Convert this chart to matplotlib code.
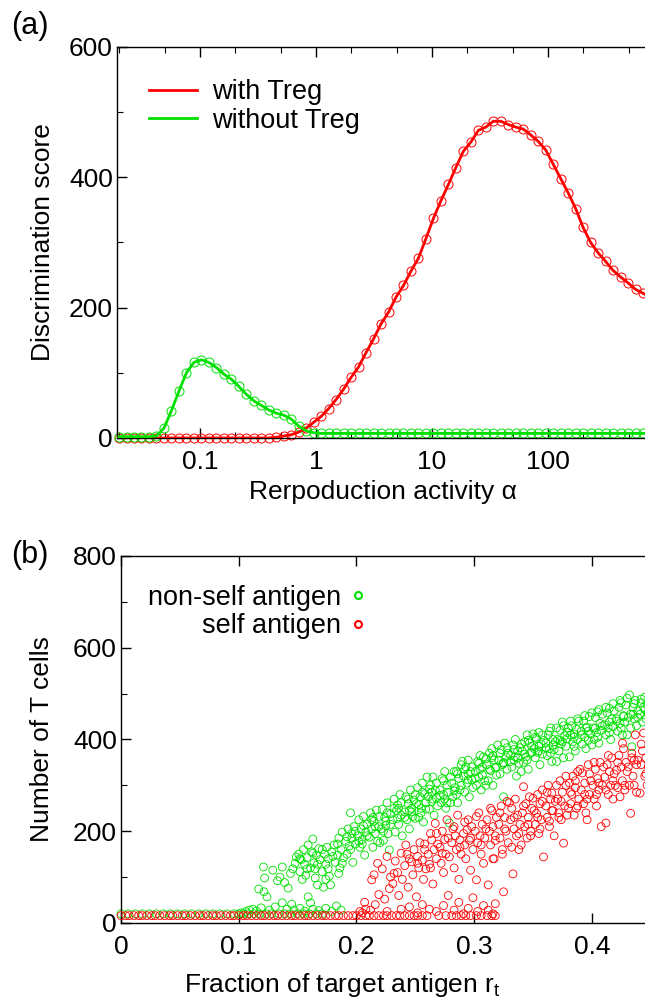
import numpy as np
import matplotlib
matplotlib.use('Agg')
import matplotlib.pyplot as plt
from matplotlib.lines import Line2D
from matplotlib.ticker import LogLocator, FixedLocator, MultipleLocator

plt.rcParams['font.family'] = ['Liberation Sans', 'DejaVu Sans']

# --- панель (a): score vs reproduction activity
alpha = [0.0200, 0.0232, 0.0269, 0.0312, 0.0362, 0.0420, 0.0488, 0.0566, 0.0657, 0.0762,
         0.0884, 0.1026, 0.1190, 0.1381, 0.1602, 0.1859, 0.2157, 0.2502, 0.2903, 0.3369,
         0.3908, 0.4535, 0.5261, 0.6104, 0.7082, 0.8217, 0.9533, 1.106, 1.283, 1.489,
         1.728, 2.005, 2.326, 2.699, 3.131, 3.633, 4.215, 4.890, 5.674, 6.583,
         7.638, 8.862, 10.28, 11.93, 13.84, 16.06, 18.63, 21.62, 25.08, 29.10,
         33.77, 39.18, 45.45, 52.74, 61.19, 70.99, 82.37, 95.57, 110.9, 128.7,
         149.3, 173.2, 200.9, 233.1, 270.5, 313.8, 364.1, 422.5, 490.2, 568.7,
         659.9, 765.6]
with_treg = [0, 0, 0, 0, 0, 0, 0, 0, 0, 0,
             0, 0, 0, 0, 0, 0, 0, 0, 0, 0,
             0, 1, 3, 5, 9, 15, 24, 33, 45, 59,
             75, 93, 109, 131, 152, 175, 193, 216, 234, 256,
             276, 306, 337, 364, 389, 415, 440, 454, 472, 477,
             486, 486, 481, 477, 474, 465, 455, 442, 420, 398,
             376, 352, 323, 300, 284, 271, 257, 247, 238, 228,
             222, 216]
without_treg = [2, 2, 2, 2, 2, 3, 15, 42, 72, 100,
                116, 120, 116, 108, 98, 90, 79, 67, 57, 50,
                43, 38, 35, 29, 18, 11, 8, 7, 7, 7,
                7, 7, 7, 7, 7, 7, 7, 7, 7, 7,
                7, 7, 7, 7, 7, 7, 7, 7, 7, 7,
                7, 7, 7, 7, 7, 7, 7, 7, 7, 7,
                7, 7, 7, 7, 7, 7, 7, 7, 7, 7,
                7, 7]

# --- панель (b): number of T cells vs fraction of target antigen
nonself_x = [0.102, 0.106, 0.109, 0.112, 0.115, 0.117, 0.119, 0.121, 0.122, 0.1215,
             0.124, 0.126, 0.129, 0.131, 0.133, 0.135, 0.137, 0.137, 0.139, 0.141,
             0.142, 0.144, 0.145, 0.146, 0.147, 0.148, 0.149, 0.151, 0.152, 0.152,
             0.153, 0.154, 0.155, 0.156, 0.156, 0.157, 0.158, 0.159, 0.159, 0.161,
             0.161, 0.162, 0.163, 0.163, 0.164, 0.165, 0.165, 0.166, 0.167, 0.168,
             0.168, 0.169, 0.171, 0.172, 0.173, 0.174, 0.174, 0.174, 0.175, 0.176,
             0.177, 0.178, 0.179, 0.179, 0.181, 0.182, 0.183, 0.184, 0.185, 0.185,
             0.186, 0.187, 0.187, 0.188, 0.189, 0.191, 0.192, 0.193, 0.194, 0.195,
             0.196, 0.196, 0.197, 0.198, 0.199, 0.201, 0.202, 0.203, 0.204, 0.205,
             0.205, 0.206, 0.207, 0.208, 0.209, 0.211, 0.212, 0.213, 0.214, 0.214,
             0.215, 0.216, 0.217, 0.218, 0.219, 0.221, 0.222, 0.223, 0.224, 0.225,
             0.225, 0.226, 0.227, 0.228, 0.229, 0.231, 0.232, 0.233, 0.234, 0.235,
             0.236, 0.236, 0.237, 0.238, 0.239, 0.241, 0.242, 0.243, 0.244, 0.245,
             0.245, 0.246, 0.247, 0.248, 0.249, 0.251, 0.252, 0.253, 0.254, 0.255,
             0.255, 0.256, 0.257, 0.258, 0.259, 0.261, 0.262, 0.263, 0.264, 0.264,
             0.265, 0.266, 0.267, 0.268, 0.269, 0.271, 0.272, 0.273, 0.274, 0.275,
             0.275, 0.276, 0.277, 0.278, 0.279, 0.281, 0.282, 0.283, 0.284, 0.285,
             0.285, 0.286, 0.287, 0.288, 0.289, 0.291, 0.292, 0.293, 0.294, 0.295,
             0.295, 0.296, 0.297, 0.298, 0.299, 0.301, 0.302, 0.303, 0.304, 0.305,
             0.305, 0.306, 0.307, 0.308, 0.309, 0.311, 0.312, 0.313, 0.314, 0.315,
             0.315, 0.316, 0.317, 0.318, 0.319, 0.321, 0.322, 0.323, 0.324, 0.325,
             0.325, 0.326, 0.327, 0.328, 0.329, 0.331, 0.332, 0.333, 0.334, 0.335,
             0.335, 0.336, 0.337, 0.338, 0.339, 0.341, 0.342, 0.343, 0.344, 0.345,
             0.345, 0.346, 0.347, 0.348, 0.349, 0.351, 0.352, 0.353, 0.354, 0.355,
             0.355, 0.356, 0.357, 0.358, 0.359, 0.361, 0.362, 0.363, 0.364, 0.365,
             0.365, 0.366, 0.367, 0.368, 0.369, 0.371, 0.372, 0.373, 0.374, 0.375,
             0.375, 0.376, 0.377, 0.378, 0.379, 0.381, 0.382, 0.383, 0.384, 0.385,
             0.385, 0.386, 0.387, 0.388, 0.389, 0.391, 0.392, 0.393, 0.394, 0.395,
             0.395, 0.396, 0.397, 0.398, 0.399, 0.401, 0.402, 0.403, 0.404, 0.405,
             0.405, 0.406, 0.407, 0.408, 0.409, 0.411, 0.412, 0.413, 0.414, 0.415,
             0.415, 0.416, 0.417, 0.418, 0.419, 0.421, 0.422, 0.423, 0.424, 0.425,
             0.425, 0.426, 0.427, 0.428, 0.429, 0.431, 0.432, 0.433, 0.434, 0.435,
             0.435, 0.436, 0.437, 0.438, 0.439, 0.441, 0.442, 0.443, 0.444, 0.445,
             0.446, 0.447, 0.448, 0.449,
             0.152, 0.158, 0.163, 0.167, 0.171, 0.176, 0.180, 0.184, 0.188, 0.192,
             0.195, 0.199, 0.202, 0.206, 0.209, 0.213, 0.216, 0.219, 0.223, 0.226,
             0.229, 0.232, 0.235, 0.238, 0.241, 0.244, 0.247, 0.250, 0.253, 0.256,
             0.259, 0.262, 0.265, 0.268, 0.271, 0.274, 0.277, 0.280, 0.283, 0.286,
             0.289, 0.292, 0.295, 0.298, 0.301, 0.304, 0.307, 0.310, 0.313, 0.316,
             0.319, 0.322, 0.325, 0.328, 0.331, 0.334, 0.337, 0.340, 0.343, 0.346,
             0.349, 0.352, 0.355, 0.358, 0.361, 0.364, 0.367, 0.370, 0.373, 0.376,
             0.379, 0.382, 0.385, 0.388, 0.391, 0.394, 0.397, 0.400, 0.403, 0.406,
             0.409, 0.412, 0.415, 0.418, 0.421, 0.424, 0.427, 0.430, 0.433, 0.436,
             0.439, 0.442, 0.445, 0.448, 0.220, 0.250, 0.280, 0.310, 0.340, 0.370,
             0.400, 0.430, 0.260, 0.290, 0.320, 0.350, 0.380]
nonself_y = [22, 25, 28, 30, 26, 74, 33, 122, 98, 68,
             57, 28, 115, 35, 92, 100, 122, 44, 88, 30,
             76, 108, 41, 118, 28, 130, 144, 150, 112, 32,
             138, 95, 160, 128, 26, 104, 142, 57, 170, 44,
             120, 155, 183, 30, 131, 98, 118, 148, 83, 162,
             27, 138, 112, 78, 150, 128, 95, 32, 165, 140,
             102, 83, 155, 25, 170, 132, 37, 148, 185, 108,
             120, 160, 28, 198, 142, 178, 150, 205, 168, 240,
             185, 195, 132, 210, 172, 190, 225, 165, 205, 182,
             172, 232, 148, 198, 215, 187, 240, 205, 165, 230,
             222, 195, 246, 178, 210, 205, 248, 180, 230, 212,
             222, 262, 195, 159, 238, 225, 270, 198, 245, 257,
             215, 250, 280, 235, 190, 242, 275, 225, 260, 205,
             245, 290, 250, 232, 268, 260, 295, 230, 275, 250,
             240, 305, 220, 282, 262, 275, 248, 300, 265, 285,
             318, 235, 290, 272, 255, 290, 262, 315, 280, 330,
             270, 250, 300, 285, 218, 305, 275, 330, 295, 330,
             280, 262, 315, 290, 345, 320, 285, 340, 305, 355,
             325, 275, 330, 312, 295, 330, 300, 352, 318, 365,
             335, 290, 340, 362, 310, 345, 310, 370, 332, 380,
             360, 300, 355, 338, 322, 355, 325, 378, 345, 275,
             350, 392, 362, 335, 370, 365, 340, 388, 355, 400,
             362, 320, 375, 348, 382, 375, 350, 395, 362, 410,
             355, 335, 392, 370, 385, 380, 360, 402, 372, 415,
             385, 345, 390, 368, 398, 392, 365, 410, 380, 425,
             370, 352, 400, 378, 395, 400, 375, 420, 390, 438,
             395, 360, 408, 385, 415, 362, 410, 430, 395, 412,
             385, 375, 422, 400, 440, 418, 390, 440, 405, 425,
             380, 427, 398, 450, 412, 425, 400, 448, 415, 460,
             405, 392, 435, 420, 455, 432, 410, 458, 425, 468,
             415, 400, 445, 428, 462, 440, 418, 470, 435, 480,
             425, 410, 452, 438, 475, 448, 497, 425, 384, 470,
             455, 445, 485, 430, 462, 455, 480, 438, 470, 492,
             445, 475, 460, 430,
             140, 118, 152, 128, 160, 118, 145, 172, 130, 188,
             160, 200, 178, 212, 190, 225, 210, 232, 200, 240,
             215, 250, 228, 262, 230, 270, 242, 280, 258, 285,
             248, 292, 270, 305, 278, 310, 262, 318, 288, 325,
             300, 335, 312, 340, 315, 348, 322, 358, 335, 365,
             340, 370, 348, 382, 352, 378, 360, 390, 368, 398,
             372, 405, 375, 410, 382, 418, 388, 425, 398, 430,
             402, 440, 405, 445, 410, 452, 418, 458, 425, 465,
             430, 470, 438, 478, 445, 485, 450, 490, 455, 478,
             448, 488, 465, 455, 175, 228, 262, 300, 330, 352,
             388, 410, 318, 352, 388, 412, 425]
nonself_base_x = [0.000, 0.006, 0.012, 0.018, 0.024, 0.030, 0.036, 0.042, 0.048, 0.054,
                  0.060, 0.066, 0.072, 0.078, 0.084, 0.090, 0.096, 0.100, 0.104, 0.108,
                  0.113, 0.118, 0.123, 0.128, 0.134, 0.139, 0.144, 0.150, 0.155, 0.160,
                  0.166, 0.171]
nonself_base_y = 20

self_x = [0.203, 0.205, 0.207, 0.208, 0.212, 0.213, 0.215, 0.216, 0.218, 0.219,
          0.222, 0.224, 0.226, 0.226, 0.228, 0.229, 0.231, 0.233, 0.235, 0.236,
          0.238, 0.238, 0.239, 0.241, 0.242, 0.244, 0.245, 0.245, 0.247, 0.248,
          0.249, 0.251, 0.252, 0.252, 0.253, 0.254, 0.256, 0.256, 0.257, 0.258,
          0.259, 0.261, 0.262, 0.262, 0.263, 0.264, 0.265, 0.266, 0.267, 0.268,
          0.268, 0.269, 0.271, 0.272, 0.273, 0.274, 0.274, 0.275, 0.276, 0.277,
          0.278, 0.279, 0.281, 0.282, 0.283, 0.283, 0.284, 0.285, 0.286, 0.287,
          0.287, 0.288, 0.289, 0.291, 0.291, 0.292, 0.293, 0.294, 0.295, 0.295,
          0.296, 0.297, 0.298, 0.299, 0.299, 0.301, 0.302, 0.303, 0.303, 0.304,
          0.305, 0.306, 0.307, 0.308, 0.308, 0.309, 0.311, 0.312, 0.312, 0.313,
          0.314, 0.315, 0.316, 0.316, 0.317, 0.318, 0.318, 0.319, 0.321, 0.322,
          0.323, 0.324, 0.325, 0.326, 0.327, 0.328, 0.329, 0.331, 0.332, 0.333,
          0.334, 0.335, 0.336, 0.337, 0.338, 0.339, 0.341, 0.342, 0.343, 0.344,
          0.345, 0.346, 0.347, 0.348, 0.349, 0.351, 0.352, 0.353, 0.354, 0.355,
          0.356, 0.357, 0.358, 0.359, 0.361, 0.362, 0.363, 0.364, 0.365, 0.366,
          0.367, 0.368, 0.369, 0.371, 0.372, 0.373, 0.374, 0.375, 0.376, 0.377,
          0.378, 0.379, 0.381, 0.382, 0.383, 0.384, 0.385, 0.386, 0.387, 0.388,
          0.389, 0.391, 0.392, 0.393, 0.394, 0.395, 0.396, 0.397, 0.398, 0.399,
          0.401, 0.402, 0.403, 0.404, 0.405, 0.406, 0.407, 0.408, 0.409, 0.411,
          0.412, 0.413, 0.414, 0.415, 0.416, 0.417, 0.418, 0.419, 0.421, 0.422,
          0.423, 0.424, 0.425, 0.426, 0.427, 0.428, 0.429, 0.431, 0.432, 0.433,
          0.434, 0.435, 0.436, 0.437, 0.438, 0.439, 0.441, 0.442, 0.443, 0.444,
          0.445, 0.446, 0.447, 0.448,
          0.232, 0.243, 0.252, 0.258, 0.263, 0.268, 0.273, 0.278, 0.283, 0.288,
          0.292, 0.297, 0.302, 0.306, 0.310, 0.314, 0.318, 0.322, 0.326, 0.330,
          0.334, 0.338, 0.342, 0.346, 0.350, 0.354, 0.358, 0.362, 0.366, 0.370,
          0.374, 0.378, 0.382, 0.386, 0.390, 0.394, 0.398, 0.402, 0.406, 0.410,
          0.414, 0.418, 0.422, 0.426, 0.430, 0.434, 0.438, 0.442, 0.446, 0.449,
          0.436, 0.428, 0.420, 0.412, 0.404, 0.396, 0.388, 0.380, 0.372, 0.364,
          0.356, 0.348, 0.340, 0.332, 0.324, 0.316]
self_y = [25, 22, 45, 30, 28, 94, 105, 40, 130, 62,
          118, 52, 145, 25, 75, 100, 86, 135, 110, 60,
          152, 30, 95, 125, 170, 78, 140, 35, 133, 105,
          160, 57, 145, 22, 120, 175, 137, 40, 95, 160,
          118, 150, 128, 30, 195, 181, 85, 160, 217, 140,
          25, 172, 165, 130, 200, 110, 38, 182, 150, 225,
          60, 144, 175, 205, 120, 28, 190, 160, 235, 95,
          45, 181, 150, 195, 20, 170, 140, 203, 225, 32,
          180, 115, 210, 160, 55, 200, 94, 175, 25, 240,
          190, 150, 215, 130, 38, 185, 225, 83, 28, 200,
          170, 245, 210, 20, 140, 190, 42, 230, 215, 185,
          255, 160, 68, 230, 200, 265, 175, 225, 250, 107,
          205, 270, 190, 235, 160, 215, 240, 297, 210, 260,
          185, 230, 275, 200, 250, 245, 215, 239, 280, 195,
          260, 225, 290, 144, 255, 230, 300, 210, 270, 283,
          245, 190, 265, 270, 240, 310, 225, 285, 174, 255,
          300, 235, 305, 260, 280, 320, 235, 295, 250, 330,
          270, 290, 327, 260, 305, 240, 225, 345, 280, 310,
          300, 270, 335, 255, 315, 290, 350, 210, 300, 318,
          218, 345, 280, 330, 300, 360, 270, 325, 333, 295,
          365, 275, 340, 310, 380, 290, 350, 340, 300, 239,
          370, 320, 355, 410, 285, 355, 283, 345, 375, 414,
          320, 360, 300, 340,
          108, 150, 130, 172, 120, 195, 152, 185, 210, 165,
          220, 185, 232, 170, 205, 250, 180, 240, 205, 262,
          230, 195, 255, 215, 272, 230, 265, 285, 245, 300,
          265, 320, 285, 310, 335, 280, 325, 350, 305, 340,
          365, 310, 350, 392, 330, 360, 345, 390, 325, 370,
          300, 300, 300, 290, 280, 270, 255, 250, 230, 222,
          205, 190, 170, 165, 150, 140]
self_base_x = [0.000, 0.004, 0.007, 0.011, 0.015, 0.018, 0.022, 0.026, 0.029, 0.033,
               0.037, 0.041, 0.044, 0.048, 0.052, 0.055, 0.059, 0.063, 0.067, 0.070,
               0.074, 0.078, 0.081, 0.085, 0.089, 0.093, 0.096, 0.100, 0.104, 0.107,
               0.111, 0.115, 0.119, 0.122, 0.126, 0.130, 0.133, 0.137, 0.141, 0.145,
               0.148, 0.152, 0.156, 0.159, 0.163, 0.167, 0.171, 0.174, 0.178, 0.182,
               0.185, 0.189, 0.193, 0.197, 0.200, 0.204, 0.208, 0.211, 0.215, 0.219,
               0.223, 0.226, 0.230, 0.234, 0.237, 0.241, 0.245, 0.249, 0.252, 0.256,
               0.260, 0.270, 0.276, 0.281, 0.285, 0.289, 0.293, 0.297, 0.302, 0.306,
               0.311, 0.315, 0.318]
self_base_y = 16

RED = '#ff0000'
GREEN = '#00e000'
TICK_FS = 19
LABEL_FS = 19
LEG_FS = 19.5

fig = plt.figure(figsize=(6.45, 9.99), dpi=100)

# ---------------- (a)
ax1 = fig.add_axes([0.1814, 0.5616, 0.848, 0.3914])
ax1.set_xscale('log')
ax1.plot(alpha, with_treg, 'o', ms=6.5, mfc='none', mec=RED, mew=0.7, clip_on=False, zorder=2)
ax1.plot(alpha, without_treg, 'o', ms=6.5, mfc='none', mec=GREEN, mew=0.7, clip_on=False, zorder=2)
ax1.plot(alpha, with_treg, '-', color=RED, lw=2.0, label='with Treg', zorder=3)
ax1.plot(alpha, without_treg, '-', color=GREEN, lw=2.0, label='without Treg', zorder=3)
ax1.set_xlim(0.0192, 1000)
ax1.set_ylim(0, 600)
ax1.xaxis.set_major_locator(FixedLocator([0.1, 1, 10, 100]))
ax1.set_xticklabels(['0.1', '1', '10', '100'])
ax1.xaxis.set_minor_locator(LogLocator(base=10, subs=(2.0, 5.0)))
ax1.xaxis.set_minor_formatter(plt.NullFormatter())
ax1.yaxis.set_major_locator(MultipleLocator(200))
ax1.yaxis.set_minor_locator(MultipleLocator(100))
ax1.set_ylabel('Discrimination score', fontsize=LABEL_FS)
ax1.set_xlabel('Rerpoduction activity α', fontsize=LABEL_FS)
ax1.yaxis.set_label_coords(-0.113, 0.5)
ax1.xaxis.set_label_coords(0.486, -0.108)
ax1.legend(loc='upper left', bbox_to_anchor=(0.058, 0.918), frameon=False, fontsize=LEG_FS,
           handlelength=1.8, handletextpad=0.55, labelspacing=0.1, borderpad=0, borderaxespad=0)

# ---------------- (b)
ax2 = fig.add_axes([0.1876, 0.0761, 0.9124, 0.3674])
ax2.scatter(nonself_base_x, [nonself_base_y] * len(nonself_base_x), s=32, facecolors='none',
            edgecolors=GREEN, linewidths=0.6, clip_on=False, zorder=2)
ax2.scatter(nonself_x, nonself_y, s=32, facecolors='none', edgecolors=GREEN,
            linewidths=0.6, clip_on=False, zorder=2)
ax2.scatter(self_base_x, [self_base_y] * len(self_base_x), s=32, facecolors='none',
            edgecolors=RED, linewidths=0.6, clip_on=False, zorder=3)
ax2.scatter(self_x, self_y, s=32, facecolors='none', edgecolors=RED,
            linewidths=0.6, clip_on=False, zorder=3)
ax2.set_xlim(0, 0.5)
ax2.set_ylim(0, 800)
ax2.xaxis.set_major_locator(FixedLocator([0, 0.1, 0.2, 0.3, 0.4]))
ax2.set_xticklabels(['0', '0.1', '0.2', '0.3', '0.4'])
ax2.yaxis.set_major_locator(MultipleLocator(200))
ax2.yaxis.set_minor_locator(MultipleLocator(100))
ax2.set_ylabel('Number of T cells', fontsize=LABEL_FS)
ax2.set_xlabel('Fraction of target antigen r$_\\mathregular{t}$', fontsize=LABEL_FS)
ax2.yaxis.set_label_coords(-0.114, 0.5)
ax2.xaxis.set_label_coords(0.376, -0.13)
handles = [Line2D([], [], ls='none', marker='o', ms=5, mfc='none', mec=GREEN, mew=1.5),
           Line2D([], [], ls='none', marker='o', ms=5, mfc='none', mec=RED, mew=1.5)]
ax2.legend(handles, ['non-self antigen', 'self antigen'], loc='upper right',
           bbox_to_anchor=(0.416, 0.922), frameon=False, fontsize=LEG_FS, markerfirst=False,
           handlelength=0.6, handletextpad=0.3, labelspacing=0.1, borderpad=0, borderaxespad=0)

for ax in (ax1, ax2):
    ax.tick_params(which='both', direction='in', top=True, right=True, labelsize=TICK_FS)
    ax.tick_params(which='major', length=7, width=1.0)
    ax.tick_params(which='minor', length=4, width=0.8)
    ax.tick_params(axis='x', pad=9)
    ax.tick_params(axis='y', pad=3)
    for sp in ax.spines.values():
        sp.set_linewidth(1.0)

fig.text(0.018, 0.966, '(a)', fontsize=22)
fig.text(0.018, 0.436, '(b)', fontsize=22)

fig.savefig('out.png', dpi=100)
